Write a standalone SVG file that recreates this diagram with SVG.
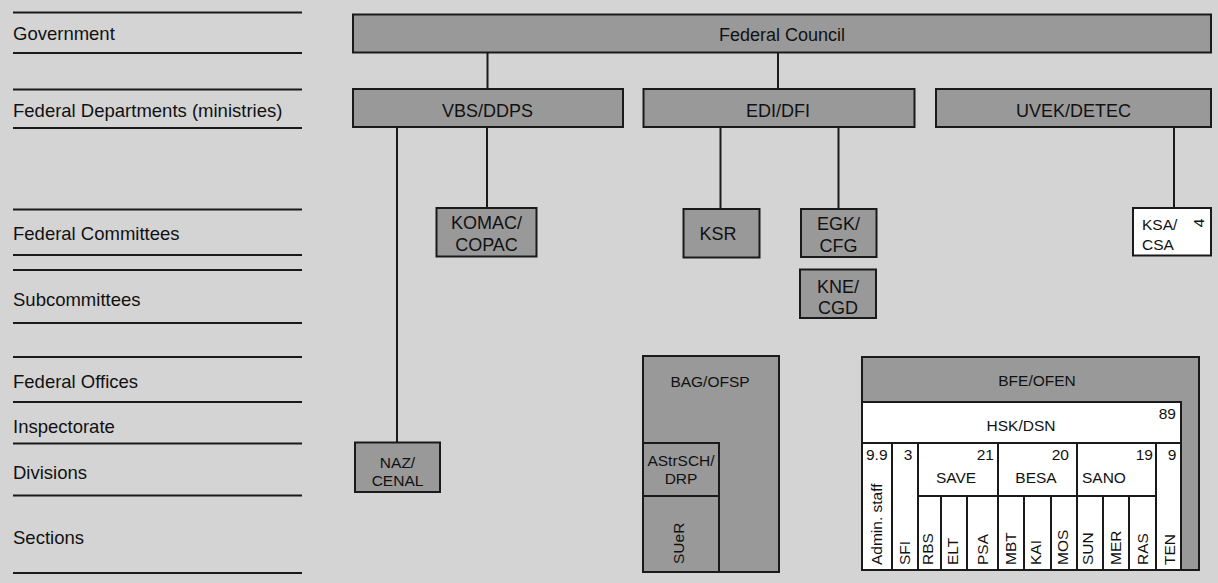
<svg xmlns="http://www.w3.org/2000/svg" width="1218" height="583" viewBox="0 0 1218 583">
<style>
.bg{fill:#d4d4d4}
.n{fill:#999999;stroke:#1a1a1a;stroke-width:2}
.w{fill:#ffffff;stroke:#1a1a1a;stroke-width:2}
.c{stroke:#1a1a1a;stroke-width:2;fill:none}
.rl{stroke:#1a1a1a;stroke-width:2.2}
text{font-family:"Liberation Sans",Arial,sans-serif;fill:#111}
.lab{font-size:18.5px}
.big{font-size:18px;text-anchor:middle}
.sm{font-size:15.5px;text-anchor:middle}
.sl{font-size:15.5px}
.sr{font-size:15.5px;text-anchor:end}
</style>
<rect class="bg" x="0" y="0" width="1218" height="583"/>
<g id="rows">
<line class="rl" x1="13" y1="12.5" x2="302" y2="12.5"/>
<line class="rl" x1="13" y1="53" x2="302" y2="53"/>
<line class="rl" x1="13" y1="89.5" x2="302" y2="89.5"/>
<line class="rl" x1="13" y1="128" x2="302" y2="128"/>
<line class="rl" x1="13" y1="209.5" x2="302" y2="209.5"/>
<line class="rl" x1="13" y1="255" x2="302" y2="255"/>
<line class="rl" x1="13" y1="270" x2="302" y2="270"/>
<line class="rl" x1="13" y1="323" x2="302" y2="323"/>
<line class="rl" x1="13" y1="357" x2="302" y2="357"/>
<line class="rl" x1="13" y1="402" x2="302" y2="402"/>
<line class="rl" x1="13" y1="443.5" x2="302" y2="443.5"/>
<line class="rl" x1="13" y1="495.5" x2="302" y2="495.5"/>
<line class="rl" x1="13" y1="573" x2="302" y2="573"/>
<text class="lab" x="13" y="39.5">Government</text>
<text class="lab" x="13" y="116.5">Federal Departments (ministries)</text>
<text class="lab" x="13" y="239.5">Federal Committees</text>
<text class="lab" x="13" y="305.5">Subcommittees</text>
<text class="lab" x="13" y="388">Federal Offices</text>
<text class="lab" x="13" y="433">Inspectorate</text>
<text class="lab" x="13" y="479">Divisions</text>
<text class="lab" x="13" y="544">Sections</text>
</g>
<g id="connectors">
<line class="c" x1="487.5" y1="53" x2="487.5" y2="89"/>
<line class="c" x1="778" y1="53" x2="778" y2="89"/>
<line class="c" x1="397" y1="127" x2="397" y2="443"/>
<line class="c" x1="487" y1="127" x2="487" y2="208"/>
<line class="c" x1="720.5" y1="127" x2="720.5" y2="209"/>
<line class="c" x1="838.5" y1="127" x2="838.5" y2="209"/>
<line class="c" x1="1174" y1="127" x2="1174" y2="208"/>
</g>
<g id="federal-council">
<rect class="n" x="353" y="14.5" width="858" height="38"/>
<text class="big" x="782" y="40.5">Federal Council</text>
</g>
<g id="vbs-ddps">
<rect class="n" x="353" y="89" width="270" height="38"/>
<text class="big" x="487.5" y="116.5">VBS/DDPS</text>
</g>
<g id="edi-dfi">
<rect class="n" x="643.5" y="89" width="271" height="38"/>
<text class="big" x="778" y="116.5">EDI/DFI</text>
</g>
<g id="uvek-detec">
<rect class="n" x="936" y="89" width="275" height="38"/>
<text class="big" x="1073.5" y="116.5">UVEK/DETEC</text>
</g>
<g id="komac-copac">
<rect class="n" x="436.5" y="208" width="100" height="48.5"/>
<text class="big" x="486.5" y="228.5">KOMAC/</text>
<text class="big" x="486.5" y="250.5">COPAC</text>
</g>
<g id="ksr">
<rect class="n" x="683.5" y="209" width="76" height="48.5"/>
<text class="big" x="718" y="239.5">KSR</text>
</g>
<g id="egk-cfg">
<rect class="n" x="801" y="209" width="75.5" height="48"/>
<text class="big" x="838.5" y="229.5">EGK/</text>
<text class="big" x="838.5" y="252">CFG</text>
</g>
<g id="kne-cgd">
<rect class="n" x="800" y="269.5" width="76" height="48.5"/>
<text class="big" x="838" y="292.5">KNE/</text>
<text class="big" x="838" y="314">CGD</text>
</g>
<g id="ksa-csa">
<rect class="w" x="1133" y="208" width="78" height="47.5"/>
<text class="sl" x="1142" y="229.5">KSA/</text>
<text class="sl" x="1142" y="249.5">CSA</text>
<text class="sm" transform="translate(1198,223) rotate(-90)" x="0" y="5.5">4</text>
</g>
<g id="naz-cenal">
<rect class="n" x="355" y="442.5" width="85" height="49.5"/>
<text class="sm" x="397.5" y="467.5">NAZ/</text>
<text class="sm" x="397.5" y="485.5">CENAL</text>
</g>
<g id="bag-ofsp">
<rect class="n" x="643" y="356" width="136" height="216"/>
<text class="sm" x="710" y="386.5">BAG/OFSP</text>
<rect class="n" x="643" y="443" width="76" height="53"/>
<text class="sm" x="681" y="465.5">AStrSCH/</text>
<text class="sm" x="681" y="484">DRP</text>
<rect class="n" x="643" y="496" width="76" height="76"/>
<text class="sl" transform="translate(678,564) rotate(-90)" x="0" y="5.5">SUeR</text>
</g>
<g id="bfe-ofen">
<rect class="n" x="862" y="357" width="337" height="213"/>
<text class="sm" x="1037" y="385.5">BFE/OFEN</text>
<rect class="w" x="862" y="402" width="319" height="41"/>
<text class="sm" x="1021" y="430.5">HSK/DSN</text>
<text class="sr" x="1176" y="418.5">89</text>
<rect class="w" x="862" y="443" width="30" height="127"/>
<rect class="w" x="892" y="443" width="26" height="127"/>
<rect class="w" x="918" y="443" width="80" height="53"/>
<rect class="w" x="918" y="496" width="23" height="74"/>
<rect class="w" x="941" y="496" width="26" height="74"/>
<rect class="w" x="967" y="496" width="31" height="74"/>
<rect class="w" x="998" y="443" width="79" height="53"/>
<rect class="w" x="998" y="496" width="26" height="74"/>
<rect class="w" x="1024" y="496" width="27" height="74"/>
<rect class="w" x="1051" y="496" width="26" height="74"/>
<rect class="w" x="1077" y="443" width="79" height="53"/>
<rect class="w" x="1077" y="496" width="26" height="74"/>
<rect class="w" x="1103" y="496" width="26" height="74"/>
<rect class="w" x="1129" y="496" width="27" height="74"/>
<rect class="w" x="1156" y="443" width="25" height="127"/>
<text class="sl" x="866" y="459.5">9.9</text>
<text class="sm" x="908" y="459.5">3</text>
<text class="sr" x="994" y="459.5">21</text>
<text class="sr" x="1069" y="459.5">20</text>
<text class="sr" x="1153" y="459.5">19</text>
<text class="sm" x="1172" y="459.5">9</text>
<text class="sm" x="956" y="482.5">SAVE</text>
<text class="sm" x="1036" y="482.5">BESA</text>
<text class="sl" x="1082" y="482.5">SANO</text>
<text class="sl" transform="translate(876,565) rotate(-90)" x="0" y="5.5">Admin. staff</text>
<text class="sl" transform="translate(904,565) rotate(-90)" x="0" y="5.5">SFI</text>
<text class="sl" transform="translate(927,565) rotate(-90)" x="0" y="5.5">RBS</text>
<text class="sl" transform="translate(952,565) rotate(-90)" x="0" y="5.5">ELT</text>
<text class="sl" transform="translate(982,565) rotate(-90)" x="0" y="5.5">PSA</text>
<text class="sl" transform="translate(1010,565) rotate(-90)" x="0" y="5.5">MBT</text>
<text class="sl" transform="translate(1035,565) rotate(-90)" x="0" y="5.5">KAI</text>
<text class="sl" transform="translate(1062,565) rotate(-90)" x="0" y="5.5">MOS</text>
<text class="sl" transform="translate(1087,565) rotate(-90)" x="0" y="5.5">SUN</text>
<text class="sl" transform="translate(1115,565) rotate(-90)" x="0" y="5.5">MER</text>
<text class="sl" transform="translate(1142,565) rotate(-90)" x="0" y="5.5">RAS</text>
<text class="sl" transform="translate(1169,565) rotate(-90)" x="0" y="5.5">TEN</text>
</g>
</svg>
